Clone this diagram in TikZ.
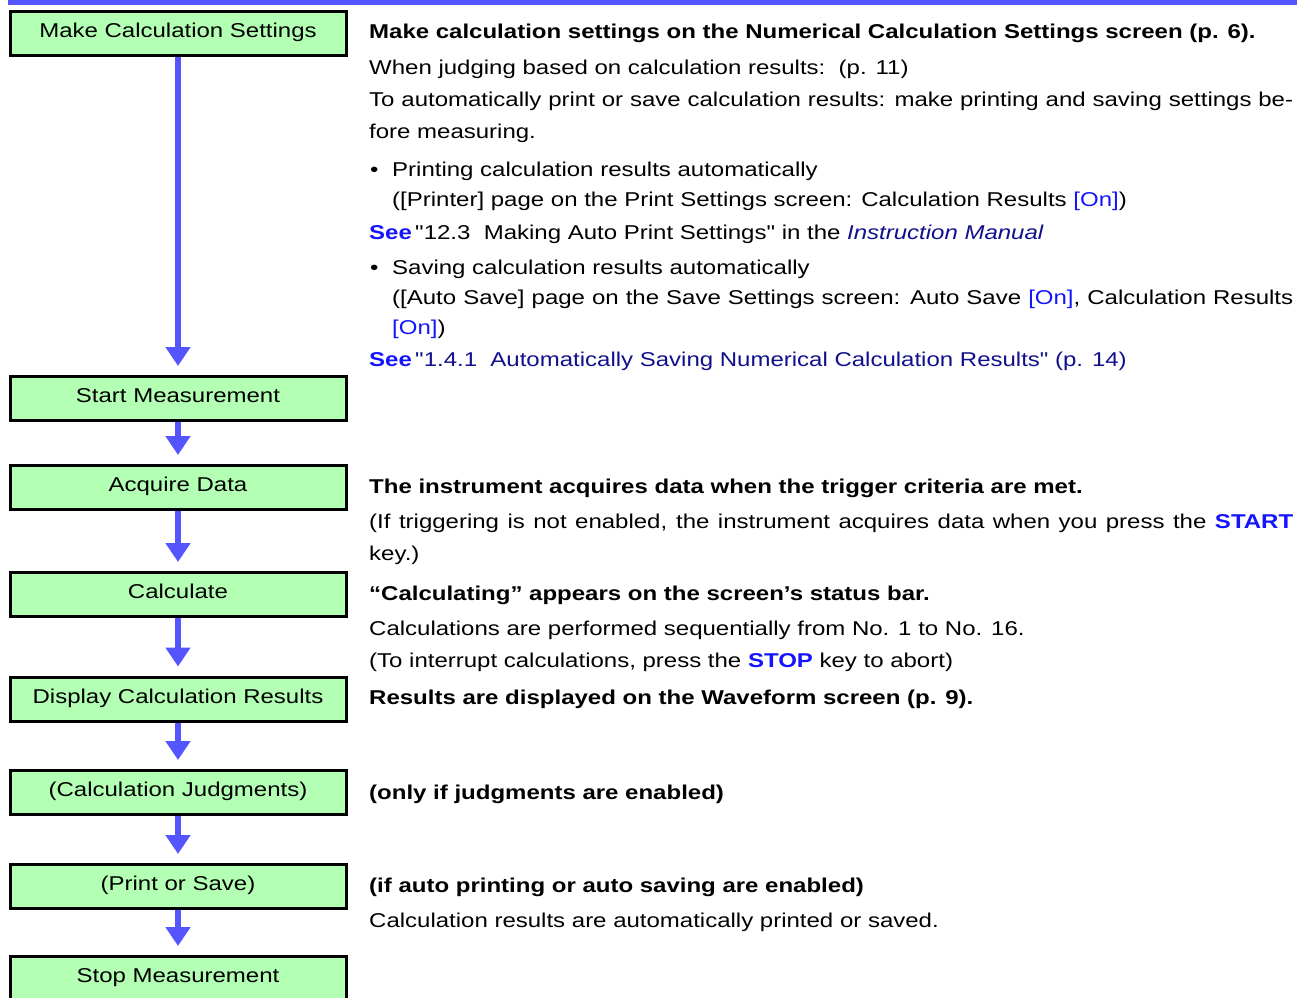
\documentclass[tikz,border=0pt]{standalone}
\usepackage{fontspec}
\setmainfont{Liberation Sans}[FakeStretch=1.2, Ligatures=TeXOff]
\usetikzlibrary{arrows.meta}
\definecolor{flowblue}{RGB}{85,85,255}
\definecolor{boxgreen}{RGB}{179,255,179}
\definecolor{linkblue}{RGB}{20,20,255}
\definecolor{navyblue}{RGB}{16,16,140}
\tikzset{
  stepbox/.style={draw=black, line width=3pt, fill=boxgreen, minimum width=336pt, minimum height=44pt,
    inner sep=0pt, text height=14pt, text depth=6pt, font=\fontsize{20}{24}\selectfont},
  flowarrow/.style={draw=flowblue, line width=6pt, -{Triangle[width=24pt,length=19pt]}, shorten >=9pt, color=flowblue},
  txt/.style={anchor=base west, inner sep=0pt, font=\fontsize{20}{24}\selectfont},
  btxt/.style={txt, font=\fontsize{20}{24}\selectfont\bfseries},
}
\newcommand{\bl}[1]{{\color{linkblue}#1}}
\newcommand{\nv}[1]{{\color{navyblue}#1}}
\newcommand{\seeword}{{\bfseries\color{linkblue}See}}
\newcommand{\dq}{"}
\begin{document}
\begin{tikzpicture}[x=1pt,y=-1pt]
\useasboundingbox (0,0) rectangle (1297,997);
\fill[flowblue] (8,0) rectangle (1297,5);
% boxes
\node[stepbox] (b1) at (178,33.5) {Make Calculation Settings};
\node[stepbox] (b2) at (178,398.5) {Start Measurement};
\node[stepbox] (b3) at (178,487.5) {Acquire Data};
\node[stepbox] (b4) at (178,594.5) {Calculate};
\node[stepbox] (b5) at (178,699) {Display Calculation Results};
\node[stepbox] (b6) at (178,792.5) {(Calculation Judgments)};
\node[stepbox] (b7) at (178,886.5) {(Print or Save)};
\node[stepbox] (b8) at (178,978.5) {Stop Measurement};
% arrows
\draw[flowarrow] (b1.south) -- (b2.north);
\draw[flowarrow] (b2.south) -- (b3.north);
\draw[flowarrow] (b3.south) -- (b4.north);
\draw[flowarrow] (b4.south) -- (b5.north);
\draw[flowarrow] (b5.south) -- (b6.north);
\draw[flowarrow] (b6.south) -- (b7.north);
\draw[flowarrow] (b7.south) -- (b8.north);
% texts
\node[btxt] (t1) at (369,38) {Make calculation settings on the Numerical Calculation Settings screen (p. 6).};
\node[txt] (t2) at (369,74) {When judging based on calculation results:\ \ (p. 11)};
\node[txt] (t3) at (369,106) {\makebox[924pt][s]{To automatically print or save calculation results: make printing and saving settings be-}};
\node[txt] (t4) at (369,138) {fore measuring.};
\node[txt] (u1) at (370,176) {•};
\node[txt] (t5) at (392,176) {Printing calculation results automatically};
\node[txt] (t6) at (392,206) {([Printer] page on the Print Settings screen: Calculation Results \bl{[On]})};
\node[txt] (t7) at (369,239) {\seeword\,\dq12.3\ \ Making Auto Print Settings\dq\ in the \nv{\itshape Instruction Manual}};
\node[txt] (u2) at (370,274) {•};
\node[txt] (t8) at (392,274) {Saving calculation results automatically};
\node[txt] (t9) at (392,304) {\makebox[901pt][s]{([Auto Save] page on the Save Settings screen: Auto Save \bl{[On]}, Calculation Results}};
\node[txt] (t10) at (392,334) {\bl{[On]})};
\node[txt] (t11) at (369,366) {\seeword\,\nv{\dq1.4.1\ \ Automatically Saving Numerical Calculation Results\dq\ (p. 14)}};
\node[btxt] (t12) at (369,493) {The instrument acquires data when the trigger criteria are met.};
\node[txt] (t13) at (369,528) {\makebox[924pt][s]{(If triggering is not enabled, the instrument acquires data when you press the \textbf{\bl{START}}}};
\node[txt] (t14) at (369,560) {key.)};
\node[btxt] (t15) at (369,600) {“Calculating” appears on the screen’s status bar.};
\node[txt] (t16) at (369,635) {Calculations are performed sequentially from No. 1 to No. 16.};
\node[txt] (t17) at (369,667) {(To interrupt calculations, press the \textbf{\bl{STOP}} key to abort)};
\node[btxt] (t18) at (369,704) {Results are displayed on the Waveform screen (p. 9).};
\node[btxt] (t19) at (369,799) {(only if judgments are enabled)};
\node[btxt] (t20) at (369,892) {(if auto printing or auto saving are enabled)};
\node[txt] (t21) at (369,927) {Calculation results are automatically printed or saved.};
\end{tikzpicture}
\end{document}
